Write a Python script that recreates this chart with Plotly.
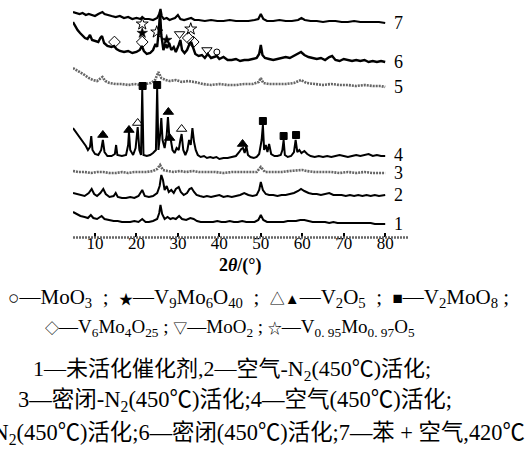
import plotly.graph_objects as go

# ---------------- data (2theta in degrees, stacked intensity in a.u.) ----------------
x1 = [4.7,5.5,6.5,7.5,8.3,9.0,9.6,10.5,11.6,12.3,13.5,14.5,15.5,16.5,17.5,18.5,19.5,20.5,21.4,22.2,
      23.0,24.0,25.0,25.5,25.8,26.2,26.8,27.5,28.2,28.8,29.5,30.3,31.0,32.0,33.0,33.8,34.6,35.5,36.5,37.5,
      38.5,39.5,40.5,41.5,42.5,43.5,44.5,45.5,46.5,47.5,48.5,49.4,50.0,50.6,51.5,52.5,53.5,54.5,55.5,56.5,
      57.5,58.5,59.5,60.5,61.5,62.5,63.5,64.5,65.5,66.5,67.5,68.5,69.5,70.5,71.5,72.5,73.5,74.5,75.5,76.5,
      77.5,78.5,79.5,80.0]
y1 = [25,23,21,20,19,22,19,18,21,18,17,16,16,15,15,15,16,15,18,15,
      15,16,18,24,32,23,18,20,18,19,18,21,18,17,19,18,16,15,15,15,
      15,16,15,15,16,15,15,16,15,15,15,17,22,17,15,15,15,15,15,16,
      16,16,17,17,16,15,15,15,15,14,15,14,14,14,14,14,14,14,14,14,
      13,13,13,13]

x2 = [4.7,5.5,6.5,7.5,8.5,9.2,9.8,10.5,11.3,12.0,12.6,13.5,14.5,15.0,15.5,16.5,17.5,18.5,19.5,20.5,
      21.4,22.0,23.0,24.0,25.0,25.6,26.0,26.4,26.8,27.3,27.8,28.4,29.0,29.5,30.2,30.7,31.4,32.2,32.8,33.3,
      33.9,34.5,35.3,36.2,37.0,38.0,39.0,40.0,41.0,42.0,43.0,44.0,45.0,46.0,47.0,48.0,49.0,49.6,50.0,50.5,
      51.2,52.0,53.0,54.0,55.0,56.0,57.0,58.0,59.0,59.7,60.5,61.5,62.5,63.5,64.5,65.5,66.5,67.5,68.5,69.5,
      70.5,71.5,72.5,73.5,74.5,75.5,76.5,77.5,78.5,79.5,80.0]
y2 = [44,43,42,41,44,48,43,41,44,48,43,40,41,44,40,39,39,40,39,41,
      47,41,40,41,44,51,62,57,47,51,45,47,44,48,50,45,42,44,48,49,
      45,42,41,40,41,40,41,42,40,41,40,41,42,44,42,41,42,47,55,47,
      43,42,42,41,42,42,43,44,46,48,46,44,43,43,42,43,44,42,42,42,
      41,42,41,42,41,42,41,42,41,42,42]

x3 = [4.7,6.0,7.5,9.0,10.5,12.0,13.5,15.0,16.5,18.0,19.5,21.0,22.5,24.0,25.0,25.7,26.4,27.5,29.0,30.5,
      32.0,33.5,35.0,37.0,39.0,41.0,43.0,45.0,47.0,49.0,50.0,51.0,53.0,55.0,57.0,59.0,60.0,61.0,63.0,65.0,
      67.0,69.0,71.0,73.0,75.0,77.0,79.0,80.0]
y3 = [66,65,65,64,65,65,64,64,65,64,65,65,65,66,68,72,67,66,65,66,
      65,66,65,65,65,64,65,65,65,65,70,65,65,65,66,67,67,66,65,65,
      65,64,65,64,65,64,64,64]

x4 = [4.7,5.2,5.8,6.5,7.2,7.8,8.3,8.8,9.1,9.4,10.0,10.8,11.5,11.9,12.3,13.0,14.0,14.8,15.1,15.4,
      16.5,17.5,18.0,18.2,18.5,19.2,19.8,20.3,20.7,21.1,21.4,21.7,22.5,23.3,24.0,24.7,25.0,25.3,25.7,26.0,
      26.3,26.8,27.3,27.6,27.9,28.3,28.7,29.2,29.7,30.2,30.6,30.9,31.3,31.8,32.3,32.7,33.1,33.5,33.9,34.3,
      34.8,35.5,36.3,37.0,37.8,38.5,39.3,40.0,41.0,42.0,43.0,44.0,44.8,45.3,45.7,46.1,46.5,46.9,47.5,48.3,
      49.0,49.6,50.2,50.5,50.8,51.2,51.6,52.0,52.5,53.3,54.0,54.8,55.2,55.5,55.8,56.5,57.3,58.0,58.4,58.8,
      59.3,59.8,60.5,61.2,62.0,63.0,64.0,65.0,66.0,67.0,68.0,69.0,70.0,71.0,72.0,73.0,74.0,75.0,76.0,77.0,
      78.0,79.0,80.0]
y4 = [109,106,103,99,95,91,87,90,101,87,83,82,87,97,85,81,81,83,92,82,
      81,82,92,105,87,82,89,110,87,82,147,82,81,82,84,87,149,87,102,119,
      97,89,102,120,102,97,87,84,89,87,97,103,87,82,87,97,92,109,95,87,
      82,80,81,79,80,79,80,78,79,79,80,81,85,88,89,84,91,82,80,79,
      80,83,97,112,87,92,85,93,83,81,81,82,87,97,82,80,81,85,97,85,
      87,84,86,83,81,80,81,80,81,80,81,82,81,80,81,82,81,82,83,81,
      82,81,81]

x5 = [4.7,5.5,6.5,7.5,8.5,9.5,10.5,11.3,11.8,12.5,13.5,15.0,16.5,18.0,19.5,21.0,22.5,23.5,24.5,25.3,
      26.0,27.0,28.0,29.5,31.0,32.5,34.0,36.0,38.0,40.0,42.0,44.0,46.0,48.0,49.5,50.0,50.6,52.0,54.0,56.0,
      58.0,59.7,61.0,63.0,65.0,67.0,69.0,71.0,73.0,75.0,77.0,79.0,80.0]
y5 = [169,167,165,162,159,157,156,159,160,156,154,153,153,152,153,152,153,154,157,165,
      159,157,156,157,155,156,155,153,152,153,152,152,153,153,155,159,154,153,153,153,
      154,157,154,153,152,153,152,152,151,152,151,151,150]

x6 = [4.7,5.2,5.8,6.4,7.0,7.6,8.2,8.8,9.3,10.0,10.8,11.3,11.7,12.2,13.0,14.0,14.6,15.2,16.0,17.0,
      18.0,19.0,20.0,20.8,21.3,21.8,22.5,23.3,24.0,24.6,25.0,25.4,25.7,26.0,26.5,27.0,27.4,27.9,28.4,29.0,
      29.5,30.2,30.6,31.0,31.6,32.2,32.8,33.2,33.7,34.2,35.0,35.8,36.5,37.2,38.0,38.7,39.4,40.0,41.0,42.0,
      43.0,44.0,45.0,46.0,47.0,48.0,49.0,49.6,50.0,50.4,51.0,52.0,53.0,54.0,55.0,56.0,57.0,58.0,59.0,59.7,
      60.5,61.5,62.5,63.5,64.5,65.5,66.5,67.2,68.0,69.0,70.0,71.0,72.0,73.0,74.0,75.0,76.0,77.0,78.0,79.0,
      80.0]
y6 = [215,211,207,204,201,199,198,202,197,196,195,199,201,194,191,190,191,188,186,185,
      186,184,185,187,191,186,183,184,187,193,190,207,225,202,187,193,189,194,187,190,
      185,192,197,187,184,187,193,195,189,183,181,182,179,183,179,180,181,178,180,177,
      177,178,176,177,177,178,179,183,192,182,179,178,177,178,179,180,179,181,183,185,
      182,180,179,178,179,177,180,181,177,176,178,177,176,177,176,177,175,176,175,176,
      175]

x7 = [4.7,5.5,6.3,7.0,7.8,8.5,9.2,10.0,10.8,11.4,11.8,12.3,13.0,14.0,15.0,16.0,17.0,18.0,19.0,20.0,
      21.0,21.4,22.0,23.0,24.0,25.0,25.5,25.8,26.1,26.6,27.3,28.0,28.6,29.3,30.0,30.6,31.5,32.4,33.2,34.0,
      35.0,36.5,38.0,39.5,41.0,42.5,44.0,45.5,47.0,48.5,49.4,50.0,50.6,51.5,53.0,54.5,56.0,57.5,59.0,59.8,
      60.6,62.0,63.5,65.0,66.5,68.0,69.5,71.0,72.5,74.0,75.5,77.0,78.5,80.0]
y7 = [225,224,223,224,222,223,222,221,223,224,225,223,222,221,220,221,219,220,218,219,
      218,220,218,218,217,219,223,228,221,218,219,217,218,219,222,218,217,218,219,217,
      217,216,217,216,216,217,216,216,216,217,218,223,218,216,216,217,216,216,217,219,
      217,216,216,215,216,216,215,215,216,215,215,215,215,214]

curve_labels = ["1", "2", "3", "4", "5", "6", "7"]
label_y = [13, 42, 64, 82, 150, 175, 214]

# phase markers: (2theta, height)
v2o5_filled_x = [11.9, 18.2, 27.7, 28.0, 45.6]
v2o5_filled_y = [102, 107, 125, 99, 93]
v2o5_open_x = [20.3, 30.9]
v2o5_open_y = [114, 108]
v2moo8_x = [21.5, 25.0, 50.5, 55.5, 58.5]
v2moo8_y = [151, 152, 116, 101, 102]
v6mo4_x = [14.7, 21.4, 32.5, 33.7]
v6mo4_y = [195, 195, 199, 195]
v9mo6_x = [21.4, 27.3]
v9mo6_y = [204, 197]
vmo_x = [21.4, 24.9, 33.1]
vmo_y = [213, 205, 208]
moo2_x = [30.4, 37.0]
moo2_y = [203, 187]
moo3_x = [39.4]
moo3_y = [185]

xticks = [10, 20, 30, 40, 50, 60, 70, 80]

SERIF = "Liberation Serif, Noto Sans CJK SC, serif"

fig = go.Figure()

solid = [(x1, y1, 2), (x2, y2, 2), (x4, y4, 2), (x6, y6, 2.4), (x7, y7, 2.2)]
for xs, ys, w in solid:
    fig.add_trace(go.Scatter(x=xs, y=ys, mode="lines",
                             line=dict(color="black", width=w), hoverinfo="skip"))
for xs, ys in [(x3, y3), (x5, y5)]:
    fig.add_trace(go.Scatter(x=xs, y=ys, mode="lines",
                             line=dict(color="#666666", width=2.6, dash="2px,1px"), hoverinfo="skip"))

def mk(xs, ys, symbol, size, lw=1):
    fig.add_trace(go.Scatter(x=xs, y=ys, mode="markers",
                             marker=dict(symbol=symbol, size=size, color="black",
                                         line=dict(color="black", width=lw)),
                             hoverinfo="skip"))

mk(v2o5_filled_x, v2o5_filled_y, "triangle-up", 9)
mk(v2o5_open_x, v2o5_open_y, "triangle-up-open", 9)
mk(v2moo8_x, v2moo8_y, "square", 7)
mk(v6mo4_x, v6mo4_y, "diamond-open", 9)
mk(v9mo6_x, v9mo6_y, "star", 8, 0.5)
mk(vmo_x, vmo_y, "star-open", 9)
mk(moo2_x, moo2_y, "triangle-down-open", 9)
mk(moo3_x, moo3_y, "circle-open", 6)

for lab, ly in zip(curve_labels, label_y):
    fig.add_annotation(x=81.6, y=ly, text=lab, showarrow=False, xanchor="left",
                       yanchor="middle", font=dict(family=SERIF, size=18, color="black"))

def px_x(p):
    return (p - 73) / 335.0

def px_y(p):
    return (237 - p) / 235.0

# x-axis baseline (gray hatched rule along the bottom of the plotting area)
fig.add_shape(type="line", xref="paper", yref="paper", x0=0, x1=1, y0=px_y(237.5), y1=px_y(237.5),
              line=dict(color="#666666", width=2.5, dash="2px,1px"), layer="above")

fig.add_annotation(xref="paper", yref="paper", x=px_x(240), y=px_y(265),
                   text="<b>2<i>θ</i>/(°)</b>", showarrow=False, xanchor="center", yanchor="middle",
                   font=dict(family=SERIF, size=18, color="black"))

def sym(s, size=15):
    return "<span style='font-size:%dpx'>%s</span>" % (size, s)

SEP = "&nbsp;&nbsp;;&nbsp;&nbsp;"
captions = [
    (sym("○", 19) + "—MoO<sub>3</sub>" + SEP + sym("★", 14) + "—V<sub>9</sub>Mo<sub>6</sub>O<sub>40</sub>" + SEP
     + sym("△▲") + "—V<sub>2</sub>O<sub>5</sub>" + SEP + sym("■", 17) + "—V<sub>2</sub>MoO<sub>8</sub>&nbsp;;",
     258, 298, "center", 21),
    (sym("◇", 14) + "—V<sub>6</sub>Mo<sub>4</sub>O<sub>25</sub> ; " + sym("▽", 14) + "—MoO<sub>2</sub> ; "
     + sym("☆", 14) + "—V<sub>0. 95</sub>Mo<sub>0. 97</sub>O<sub>5</sub>",
     230, 328, "center", 19),
    ("1—未活化催化剂,2—空气-N<sub>2</sub>(450℃)活化;", 232, 370, "center", 22),
    ("3—密闭-N<sub>2</sub>(450℃)活化;4—空气(450℃)活化;", 235, 401, "center", 22.5),
    ("5—N<sub>2</sub>(450℃)活化;6—密闭(450℃)活化;7—苯 + 空气,420℃", 527, 434, "right", 22.4),
]
for txt, cx, cy, anc, fs in captions:
    fig.add_annotation(xref="paper", yref="paper", x=px_x(cx), y=px_y(cy), text=txt,
                       showarrow=False, xanchor=anc, yanchor="middle",
                       font=dict(family=SERIF, size=fs, color="black"))

fig.update_layout(
    width=531, height=455,
    margin=dict(l=73, r=123, t=2, b=218),
    paper_bgcolor="white", plot_bgcolor="white",
    showlegend=False,
    xaxis=dict(range=[4.7, 85.5], tickvals=xticks, ticktext=[str(t) for t in xticks],
               showgrid=False, zeroline=False, showline=False,
               ticks="inside", ticklen=4, tickwidth=1.5, tickcolor="black",
               ticklabelstandoff=-6,
               tickfont=dict(family=SERIF, size=17, color="black")),
    yaxis=dict(range=[0, 235], visible=False),
)

fig.write_html("out.html", post_script="document.body.style.margin='0';",
               config={"displayModeBar": False})
